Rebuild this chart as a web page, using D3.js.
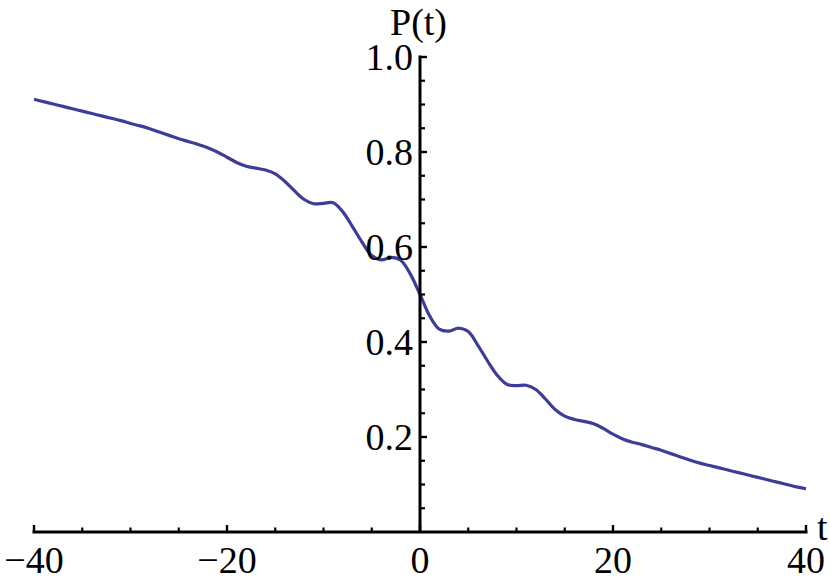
<!DOCTYPE html>
<html><head><meta charset="utf-8">
<script src="https://cdn.jsdelivr.net/npm/d3@7"></script>
<style>body{margin:0;background:#fff}svg{display:block}
text{font-family:"Liberation Serif","Tinos","Times New Roman",Times,"DejaVu Serif",serif;}</style>
</head><body>
<script>
const tValues = [-40,-39,-38,-37,-36,-35,-34,-33,-32,-31,-30,-29,-28,-27,-26,-25,-24,-23,-22,-21,-20,-19,-18,-17,-16,-15,-14,-13,-12,-11,-10,-9,-8,-7,-6,-5,-4,-3,-2,-1,
  0,1,2,3,4,5,6,7,8,9,10,11,12,13,14,15,16,17,18,19,20,21,22,23,24,25,26,27,28,29,30,31,32,33,34,35,36,37,38,39,40];
const pValues = [0.911,0.906,0.901,0.896,0.891,0.886,0.881,0.876,0.871,0.866,0.860,0.855,0.849,0.842,0.835,0.828,0.822,0.816,0.809,0.800,0.789,0.778,0.770,0.766,0.762,0.754,0.738,0.718,0.700,0.691,0.692,0.693,0.674,0.643,0.610,0.582,0.573,0.578,0.572,0.543,
  0.500,0.455,0.427,0.423,0.429,0.422,0.393,0.360,0.330,0.311,0.308,0.309,0.300,0.280,0.258,0.244,0.237,0.233,0.228,0.218,0.206,0.196,0.189,0.184,0.178,0.172,0.165,0.158,0.151,0.145,0.140,0.135,0.130,0.125,0.120,0.115,0.110,0.105,0.100,0.095,0.091];
const xTicks = [-40,-20,0,20,40];
const xTickLabels = ["\u221240","\u221220","0","20","40"];
const xMinorTicks = [-35,-30,-25,-15,-10,-5,5,10,15,25,30,35];
const yTicks = [0.2,0.4,0.6,0.8,1.0];
const yTickLabels = ["0.2","0.4","0.6","0.8","1.0"];
const yMinorTicks = [0.05,0.1,0.15,0.25,0.3,0.35,0.45,0.5,0.55,0.65,0.7,0.75,0.85,0.9,0.95];

const W = 830, H = 583;
const svg = d3.select("body").append("svg").attr("width", W).attr("height", H);
const x = d3.scaleLinear().domain([-40, 40]).range([34, 806]);
const y = d3.scaleLinear().domain([0, 1]).range([532, 57]);
const fs = 38;
const axisColor = "#000";

// curve
const data = tValues.map((t, i) => ({t, p: pValues[i]}));
svg.append("path").datum(data)
  .attr("fill", "none").attr("stroke", "#3d3d99").attr("stroke-width", 3.2)
  .attr("stroke-linejoin", "round").attr("stroke-linecap", "butt")
  .attr("d", d3.line().x(d => x(d.t)).y(d => y(d.p)).curve(d3.curveCatmullRom.alpha(0.5)));

const x0 = x(0), y0 = y(0);
// x axis
svg.append("line").attr("x1", x(-40) - 1.5).attr("x2", x(40) + 1.5).attr("y1", y0).attr("y2", y0)
  .attr("stroke", axisColor).attr("stroke-width", 3);
svg.selectAll(".xmaj").data(xTicks).enter().append("line")
  .attr("x1", d => x(d)).attr("x2", d => x(d)).attr("y1", y0).attr("y2", y0 - 7)
  .attr("stroke", axisColor).attr("stroke-width", 2.4);
svg.selectAll(".xmin").data(xMinorTicks).enter().append("line")
  .attr("x1", d => x(d)).attr("x2", d => x(d)).attr("y1", y0).attr("y2", y0 - 4.5)
  .attr("stroke", axisColor).attr("stroke-width", 2.2);
svg.selectAll(".xlab").data(xTicks).enter().append("text")
  .attr("x", d => x(d)).attr("y", 573).attr("text-anchor", "middle")
  .attr("font-size", fs).text((d, i) => xTickLabels[i]);

// y axis
svg.append("line").attr("x1", x0).attr("x2", x0).attr("y1", y0).attr("y2", y(1) - 1.5)
  .attr("stroke", axisColor).attr("stroke-width", 3);
svg.selectAll(".ymaj").data(yTicks).enter().append("line")
  .attr("x1", x0).attr("x2", x0 + 7).attr("y1", d => y(d)).attr("y2", d => y(d))
  .attr("stroke", axisColor).attr("stroke-width", 2.4);
svg.selectAll(".ymin").data(yMinorTicks).enter().append("line")
  .attr("x1", x0).attr("x2", x0 + 5).attr("y1", d => y(d)).attr("y2", d => y(d))
  .attr("stroke", axisColor).attr("stroke-width", 2.2);
svg.selectAll(".ylab").data(yTicks).enter().append("text")
  .attr("x", x0 - 7).attr("y", d => y(d) + 13).attr("text-anchor", "end")
  .attr("font-size", fs).text((d, i) => yTickLabels[i]);

// axis labels
svg.append("text").attr("x", 390).attr("y", 35).attr("font-size", fs).text("P(t)");
svg.append("text").attr("x", 817).attr("y", 540).attr("font-size", fs).text("t");
</script>
</body></html>
